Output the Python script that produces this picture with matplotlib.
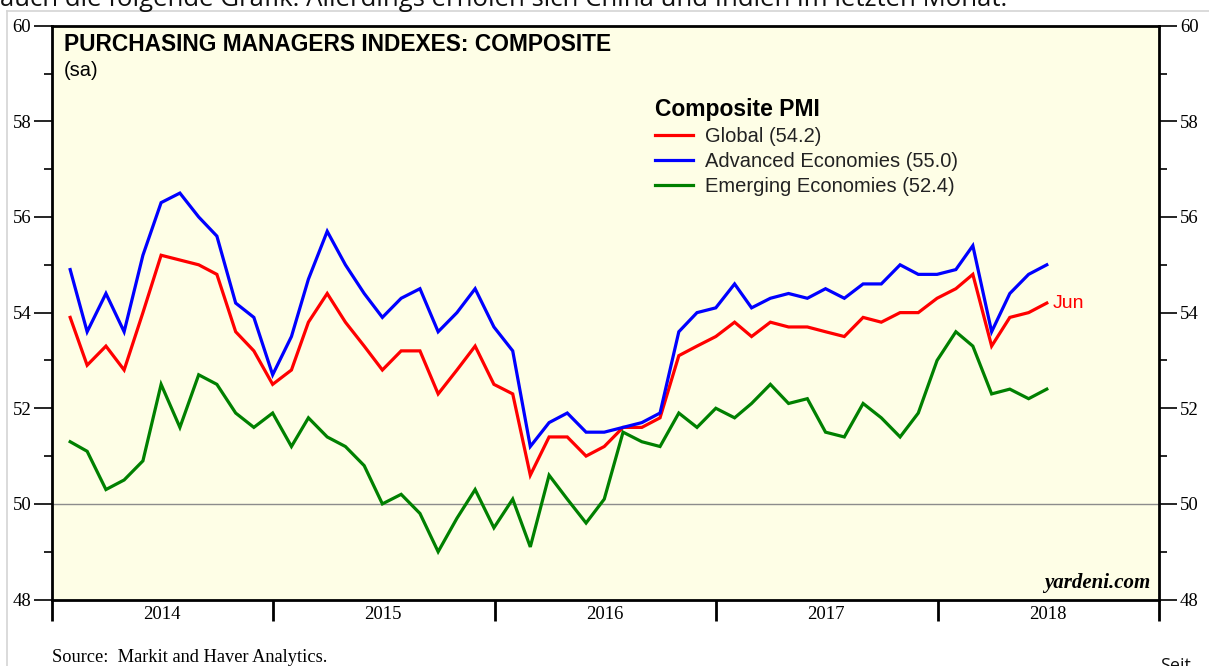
import pandas as pd
import matplotlib
matplotlib.use("Agg")
import matplotlib.pyplot as plt
import matplotlib.dates as mdates
from matplotlib.ticker import MultipleLocator
from matplotlib.lines import Line2D

# monthly composite PMI, Jan 2014 - Jun 2018
months = pd.date_range("2014-01-31", periods=54, freq="ME")

global_pmi = [53.9, 52.9, 53.3, 52.8, 54.0, 55.2, 55.1, 55.0, 54.8, 53.6,
              53.2, 52.5, 52.8, 53.8, 54.4, 53.8, 53.3, 52.8, 53.2, 53.2,
              52.3, 52.8, 53.3, 52.5, 52.3, 50.6, 51.4, 51.4, 51.0, 51.2,
              51.6, 51.6, 51.8, 53.1, 53.3, 53.5, 53.8, 53.5, 53.8, 53.7,
              53.7, 53.6, 53.5, 53.9, 53.8, 54.0, 54.0, 54.3, 54.5, 54.8,
              53.3, 53.9, 54.0, 54.2]

advanced = [54.9, 53.6, 54.4, 53.6, 55.2, 56.3, 56.5, 56.0, 55.6, 54.2,
            53.9, 52.7, 53.5, 54.7, 55.7, 55.0, 54.4, 53.9, 54.3, 54.5,
            53.6, 54.0, 54.5, 53.7, 53.2, 51.2, 51.7, 51.9, 51.5, 51.5,
            51.6, 51.7, 51.9, 53.6, 54.0, 54.1, 54.6, 54.1, 54.3, 54.4,
            54.3, 54.5, 54.3, 54.6, 54.6, 55.0, 54.8, 54.8, 54.9, 55.4,
            53.6, 54.4, 54.8, 55.0]

emerging = [51.3, 51.1, 50.3, 50.5, 50.9, 52.5, 51.6, 52.7, 52.5, 51.9,
            51.6, 51.9, 51.2, 51.8, 51.4, 51.2, 50.8, 50.0, 50.2, 49.8,
            49.0, 49.7, 50.3, 49.5, 50.1, 49.1, 50.6, 50.1, 49.6, 50.1,
            51.5, 51.3, 51.2, 51.9, 51.6, 52.0, 51.8, 52.1, 52.5, 52.1,
            52.2, 51.5, 51.4, 52.1, 51.8, 51.4, 51.9, 53.0, 53.6, 53.3,
            52.3, 52.4, 52.2, 52.4]

labels = ["Global (54.2)", "Advanced Economies (55.0)", "Emerging Economies (52.4)"]
colors = ["#ff0000", "#0000ff", "#008000"]

serif = "Liberation Serif"
sans = "Liberation Sans"

fig = plt.figure(figsize=(12.09, 6.66), dpi=100)
fig.patch.set_facecolor("white")
ax = fig.add_axes([0.0430, 0.0998, 0.9156, 0.8616])
ax.set_facecolor("#fefee6")

for vals, c, lab in zip([global_pmi, advanced, emerging], colors, labels):
    ax.plot(months, vals, color=c, lw=2.3, label=lab, solid_joinstyle="miter")

ax.axhline(50, color="#8c8c8c", lw=1.0, zorder=1)

ax.set_ylim(48, 60)
ax.set_xlim(pd.Timestamp("2014-01-01"), pd.Timestamp("2019-01-01"))

ax.yaxis.set_major_locator(MultipleLocator(2))
ax.yaxis.set_minor_locator(MultipleLocator(1))
ax.tick_params(axis="y", which="both", left=True, right=True,
               labelleft=True, labelright=True, direction="out",
               labelsize=13.5, width=1.2, colors="black")
ax.tick_params(axis="y", which="major", length=13, pad=2)
ax.tick_params(axis="y", which="minor", length=6)

ax.xaxis.set_major_locator(mdates.YearLocator())
ax.xaxis.set_major_formatter(plt.NullFormatter())
ax.xaxis.set_minor_locator(mdates.MonthLocator(bymonth=7, bymonthday=1))
ax.xaxis.set_minor_formatter(mdates.DateFormatter("%Y"))
ax.tick_params(axis="x", which="major", length=15, width=2, direction="out")
ax.tick_params(axis="x", which="minor", length=0, pad=5, labelsize=13.5)

for lbl in ax.get_xticklabels(minor=True) + ax.get_yticklabels():
    lbl.set_fontfamily(serif)
for lbl in ax.yaxis.get_ticklabels(which="both"):
    lbl.set_fontfamily(serif)

for s in ax.spines.values():
    s.set_linewidth(2)
    s.set_color("black")

ax.text(0.011, 0.967, "PURCHASING MANAGERS INDEXES: COMPOSITE",
        transform=ax.transAxes, fontsize=16.4, fontweight="bold",
        family=sans, va="center", ha="left")
ax.text(0.011, 0.922, "(sa)", transform=ax.transAxes, fontsize=14.5,
        family=sans, va="center", ha="left")

leg = ax.legend(loc="upper left", bbox_to_anchor=(0.5447, 0.874),
                frameon=False, title="Composite PMI",
                title_fontproperties={"family": sans, "weight": "bold", "size": 16.5},
                prop={"family": sans, "size": 14.5}, alignment="left",
                borderpad=0, borderaxespad=0, handlelength=1.9,
                handletextpad=0.6, labelspacing=0.3)
for t in leg.get_texts():
    t.set_color("#222222")

ax.annotate("Jun", xy=(months[-1], global_pmi[-1]), xytext=(4, 0),
            textcoords="offset points", color="#ff0000", fontsize=14,
            family=sans, va="center", ha="left")

ax.text(0.992, 0.012, "yardeni.com", transform=ax.transAxes,
        fontsize=15, family=serif, style="italic", fontweight="bold",
        ha="right", va="bottom")

fig.text(52 / 1209, 1 - 658 / 666, "Source:  Markit and Haver Analytics.",
         family=serif, fontsize=13.2, va="center", ha="left")

# bits of the surrounding page visible in the screenshot
fig.text(0.0, 1 - 6 / 666,
         "auch die folgende Grafik. Allerdings erholen sich China und Indien im letzten Monat.",
         family="Open Sans", fontsize=18.5, va="baseline", ha="left", color="#111111")
fig.text(1160 / 1209, -5 / 666, "Seit", family="Open Sans", fontsize=13,
         va="baseline", ha="left", color="#111111")
fig.add_artist(Line2D([7 / 1209, 7 / 1209], [0, 1 - 11 / 666],
                      transform=fig.transFigure, color="#d4d4d4", lw=1.2))
fig.add_artist(Line2D([7 / 1209, 1], [1 - 11 / 666, 1 - 11 / 666],
                      transform=fig.transFigure, color="#d4d4d4", lw=1.2))

fig.savefig("out.png", dpi=100)
